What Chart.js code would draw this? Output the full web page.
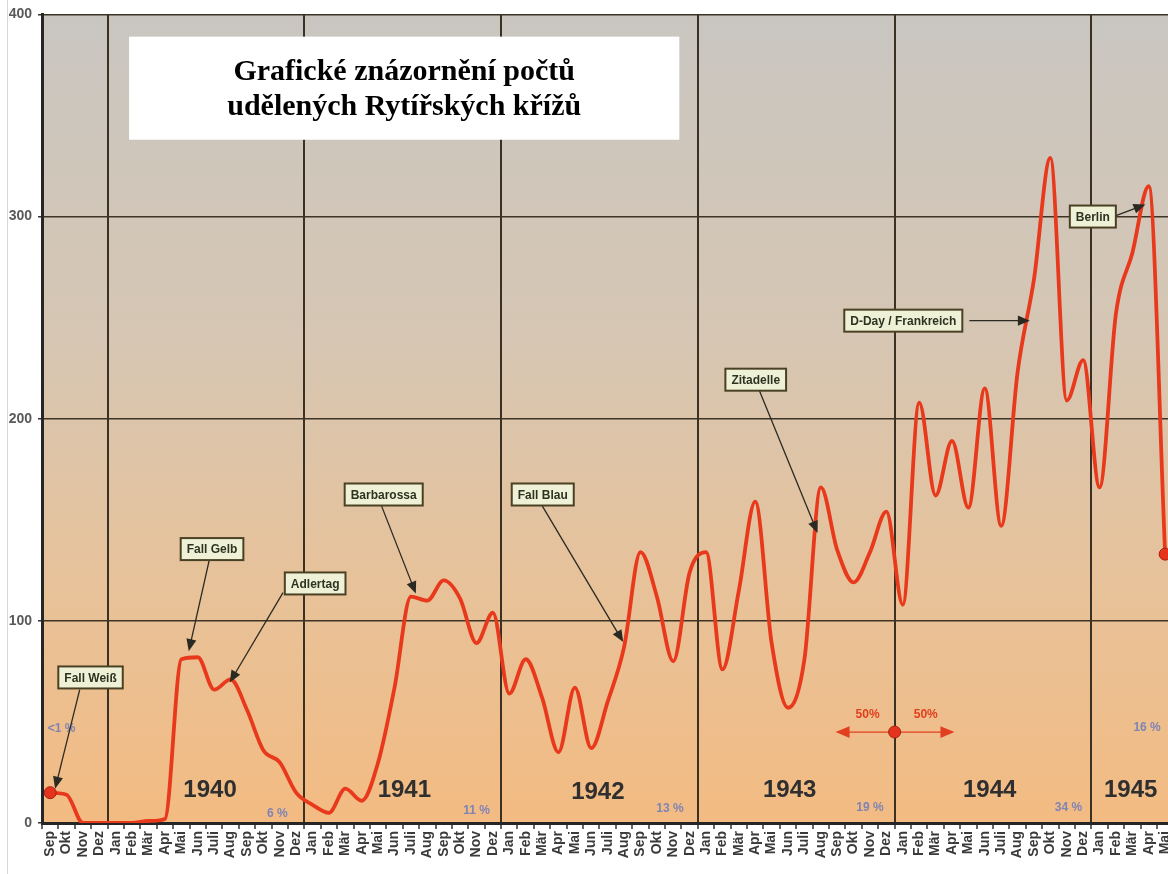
<!DOCTYPE html>
<html>
<head>
<meta charset="utf-8">
<title>Rytířské kříže</title>
<script src="https://cdn.jsdelivr.net/npm/chart.js@4"></script>
<style>
html, body { margin: 0; padding: 0; background: #fff; overflow: hidden; }
#wrap { position: relative; width: 1168px; height: 874px; overflow: hidden; }
#edge { position: absolute; left: 7px; top: 0; width: 1px; height: 874px; background: #d8d8d8; }
canvas { position: absolute; left: 0; top: 0; }
</style>
</head>
<body>
<div id="wrap">
  <canvas id="crossChart" width="1184" height="874"></canvas>
  <div id="edge"></div>
</div>
<script>
// month axis, Sep 1939 .. Mai 1945
const monthLabels = [
    'Sep', 'Okt', 'Nov', 'Dez',
    'Jan', 'Feb', 'Mär', 'Apr', 'Mai', 'Jun', 'Juli', 'Aug', 'Sep', 'Okt', 'Nov', 'Dez',
    'Jan', 'Feb', 'Mär', 'Apr', 'Mai', 'Jun', 'Juli', 'Aug', 'Sep', 'Okt', 'Nov', 'Dez',
    'Jan', 'Feb', 'Mär', 'Apr', 'Mai', 'Jun', 'Juli', 'Aug', 'Sep', 'Okt', 'Nov', 'Dez',
    'Jan', 'Feb', 'Mär', 'Apr', 'Mai', 'Jun', 'Juli', 'Aug', 'Sep', 'Okt', 'Nov', 'Dez',
    'Jan', 'Feb', 'Mär', 'Apr', 'Mai', 'Jun', 'Juli', 'Aug', 'Sep', 'Okt', 'Nov', 'Dez',
    'Jan', 'Feb', 'Mär', 'Apr', 'Mai'
];

// crosses awarded per month
const crossCounts = [
    15, 14, 0, 0,
    0, 0, 1, 2, 81, 82, 66, 71, 56, 36, 30, 15,
    9, 5, 17, 11, 30, 67, 112, 110, 120, 111, 89, 104,
    64, 81, 62, 35, 67, 37, 60, 87, 134, 112, 80, 124,
    134, 76, 115, 159, 89, 57, 81, 166, 135, 119, 134, 154,
    108, 208, 162, 189, 156, 215, 147, 223, 269, 329, 209, 229,
    166, 252, 282, 315, 133
];

const yTicks = [0, 100, 200, 300, 400];
const yearNames = ['1940', '1941', '1942', '1943', '1944', '1945'];
const shareLabels = ['<1 %', '6 %', '11 %', '13 %', '19 %', '34 %', '16 %'];
const eventNames = ['Fall Weiß', 'Fall Gelb', 'Adlertag', 'Barbarossa', 'Fall Blau', 'Zitadelle', 'D-Day / Frankreich', 'Berlin'];
const titleLines = ['Grafické znázornění počtů', 'udělených Rytířských křížů'];

// index of every January (year boundary line drawn on its left edge)
const yearStarts = [];
monthLabels.forEach((m, i) => { if (m === 'Jan') yearStarts.push(i); });

// placement of the texts, in (month index, value) units
const yearPos = [[9.75, 16], [21.6, 16], [33.4, 15], [45.1, 16], [57.3, 16], [65.9, 16]];
const sharePos = [[0.7, 46.5], [13.85, 4.5], [26, 6], [37.8, 7], [50, 7.4], [62.1, 7.4], [66.9, 47]];
const eventPos = [
    { box: [2.46, 72], from: [1.8, 66], to: [0.3, 17] },
    { box: [9.87, 135.5], from: [9.7, 130], to: [8.45, 85] },
    { box: [16.16, 118.5], from: [14.2, 114], to: [10.95, 69.5] },
    { box: [20.34, 162.5], from: [20.2, 157], to: [22.3, 113.5] },
    { box: [30.04, 162.5], from: [30.0, 157], to: [34.95, 89.5] },
    { box: [43.03, 219.3], from: [43.25, 214], to: [46.8, 143.5] },
    { box: [52.03, 248.5], from: [56.06, 248.5], to: [59.75, 248.5] },
    { box: [63.59, 300], from: [65.0, 300.5], to: [66.8, 306] }
];

function xAt(chart, i) {
    const x = chart.scales.x;
    const step = x.getPixelForValue(1) - x.getPixelForValue(0);
    return x.getPixelForValue(0) + i * step;
}

function yAt(chart, v) {
    return chart.scales.y.getPixelForValue(v);
}

function arrow(ctx, x1, y1, x2, y2, color, head) {
    const a = Math.atan2(y2 - y1, x2 - x1);
    ctx.strokeStyle = color;
    ctx.fillStyle = color;
    ctx.lineWidth = 1.3;
    ctx.beginPath();
    ctx.moveTo(x1, y1);
    ctx.lineTo(x2 - Math.cos(a) * head * 0.8, y2 - Math.sin(a) * head * 0.8);
    ctx.stroke();
    ctx.beginPath();
    ctx.moveTo(x2, y2);
    ctx.lineTo(x2 - head * Math.cos(a) + head * 0.42 * Math.sin(a), y2 - head * Math.sin(a) - head * 0.42 * Math.cos(a));
    ctx.lineTo(x2 - head * Math.cos(a) - head * 0.42 * Math.sin(a), y2 - head * Math.sin(a) + head * 0.42 * Math.cos(a));
    ctx.closePath();
    ctx.fill();
}

const paperBackground = {
    id: 'paperBackground',
    beforeDraw(chart) {
        const { ctx, chartArea: a } = chart;
        const g = ctx.createLinearGradient(0, a.top, 0, a.bottom);
        g.addColorStop(0, '#c9c6c1');
        g.addColorStop(0.4, '#d6c6b3');
        g.addColorStop(0.7, '#e7c29a');
        g.addColorStop(1, '#f3bb82');
        ctx.save();
        ctx.fillStyle = g;
        ctx.fillRect(a.left, a.top, a.right - a.left, a.bottom - a.top);
        ctx.restore();
    }
};

const notes = {
    id: 'notes',
    afterDatasetsDraw(chart) {
        const ctx = chart.ctx;
        ctx.save();

        // title box
        const tx1 = xAt(chart, 4.81), tx2 = xAt(chart, 38.37);
        const ty1 = yAt(chart, 389), ty2 = yAt(chart, 338);
        ctx.fillStyle = '#ffffff';
        ctx.fillRect(tx1, ty1, tx2 - tx1, ty2 - ty1);
        ctx.fillStyle = '#000';
        ctx.font = 'bold 30px "Liberation Serif", "Times New Roman", serif';
        ctx.textAlign = 'center';
        ctx.textBaseline = 'middle';
        ctx.fillText(titleLines[0], (tx1 + tx2) / 2, ty1 + 36);
        ctx.fillText(titleLines[1], (tx1 + tx2) / 2, ty1 + 71);

        // years
        ctx.font = 'bold 24px "Liberation Sans", Arial, sans-serif';
        ctx.fillStyle = '#2f2f2f';
        yearNames.forEach((t, i) => {
            ctx.fillText(t, xAt(chart, yearPos[i][0]), yAt(chart, yearPos[i][1]));
        });

        // shares
        ctx.font = 'bold 12px "Liberation Sans", Arial, sans-serif';
        ctx.fillStyle = '#7f84b4';
        shareLabels.forEach((t, i) => {
            ctx.fillText(t, xAt(chart, sharePos[i][0]), yAt(chart, sharePos[i][1]));
        });

        // event callouts
        ctx.font = 'bold 12px "Liberation Sans", Arial, sans-serif';
        eventNames.forEach((t, i) => {
            const p = eventPos[i];
            arrow(ctx, xAt(chart, p.from[0]), yAt(chart, p.from[1]),
                  xAt(chart, p.to[0]), yAt(chart, p.to[1]), '#2a2a22', 12);
            const w = ctx.measureText(t).width + 12;
            const h = 22;
            const cx = xAt(chart, p.box[0]), cy = yAt(chart, p.box[1]);
            ctx.fillStyle = '#eff1d6';
            ctx.fillRect(cx - w / 2, cy - h / 2, w, h);
            ctx.strokeStyle = '#4a4124';
            ctx.lineWidth = 2;
            ctx.strokeRect(cx - w / 2, cy - h / 2, w, h);
            ctx.fillStyle = '#2c3320';
            ctx.fillText(t, cx, cy + 1);
        });

        // 50 % / 50 % marker on the Dez 43 / Jan 44 line
        const mx = xAt(chart, 51.5), my = yAt(chart, 45);
        arrow(ctx, mx, my, xAt(chart, 47.9), my, '#e0401f', 14);
        arrow(ctx, mx, my, xAt(chart, 55.15), my, '#e0401f', 14);
        ctx.fillStyle = '#e5331d';
        ctx.beginPath();
        ctx.arc(mx, my, 6, 0, Math.PI * 2);
        ctx.fill();
        ctx.strokeStyle = '#a82010';
        ctx.lineWidth = 1;
        ctx.stroke();
        ctx.font = 'bold 12px "Liberation Sans", Arial, sans-serif';
        ctx.fillStyle = '#e0401f';
        ctx.fillText('50%', xAt(chart, 49.85), yAt(chart, 53.5));
        ctx.fillText('50%', xAt(chart, 53.4), yAt(chart, 53.5));

        ctx.restore();
    }
};

const lastIndex = crossCounts.length - 1;

const config = {
    type: 'line',
    data: {
        labels: monthLabels,
        datasets: [{
            data: crossCounts,
            borderColor: '#e8391d',
            borderWidth: 3.8,
            cubicInterpolationMode: 'monotone',
            pointRadius: (c) => (c.dataIndex === 0 || c.dataIndex === lastIndex) ? 6 : 0,
            pointBackgroundColor: '#e5331d',
            pointBorderColor: '#a82010',
            pointBorderWidth: 1,
            fill: false
        }]
    },
    options: {
        responsive: false,
        animation: false,
        layout: { padding: { top: 14, right: 0, left: 0, bottom: 0 } },
        plugins: {
            legend: { display: false },
            tooltip: { enabled: false }
        },
        scales: {
            x: {
                offset: true,
                border: { color: '#262626', width: 3 },
                grid: {
                    offset: true,
                    color: (c) => yearStarts.includes(c.index) ? '#3a3123' : 'rgba(0,0,0,0)',
                    lineWidth: 2,
                    tickColor: '#333',
                    tickWidth: 1.5,
                    tickLength: 6
                },
                ticks: {
                    autoSkip: false,
                    minRotation: 90,
                    maxRotation: 90,
                    padding: 2,
                    color: '#3a3a3a',
                    font: { family: '"Liberation Sans", Arial, sans-serif', size: 14, weight: 'bold' }
                },
                afterFit: (s) => { s.height = 51; }
            },
            y: {
                min: 0,
                max: 400,
                border: { color: '#262626', width: 3 },
                grid: {
                    color: '#3d3426',
                    lineWidth: 1.5,
                    tickColor: '#333',
                    tickLength: 4
                },
                afterBuildTicks: (s) => { s.ticks = yTicks.map(v => ({ value: v })); },
                ticks: {
                    padding: 6,
                    color: '#595959',
                    font: { family: '"Liberation Sans", Arial, sans-serif', size: 14, weight: 'bold' }
                },
                afterFit: (s) => { s.width = 42; }
            }
        }
    },
    plugins: [paperBackground, notes]
};

const crossChart = new Chart(document.getElementById('crossChart'), config);
</script>
</body>
</html>
